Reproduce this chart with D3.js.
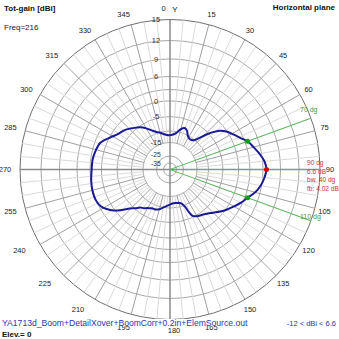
<!DOCTYPE html>
<html><head><meta charset="utf-8">
<script src="https://cdn.jsdelivr.net/npm/d3@7"></script>
<style>body{margin:0;background:#fff} svg{display:block;font-family:"Liberation Sans",Arial,sans-serif}</style>
</head><body>
<svg id="c" width="339" height="339"></svg>
<script>
// ---- data ----
const angles = [0,5,10,13,17,20,24,28,32,36,40,43,46,49,52,56,61,66,70,75,80,85,90,95,100,105,110,115,120,125,130,135,140,145,150,154,156,158,161,165,171,176,180,185,190,195,200,205,210,214,218,222,226,230,234,238,242,248,255,262,270,277,283,291,298,305,311,316,321,325,330,335,340,345,350,355];
const gains  = [-11.9,-11.5,-10.6,-9.5,-8.4,-8.1,-8.8,-10.2,-10.9,-10.9,-10.0,-8.4,-6.0,-3.7,-1.8,-0.2,1.0,2.3,3.6,4.5,5.5,6.3,6.6,6.3,5.8,4.9,3.6,2.6,1.4,0.3,-1.0,-2.4,-3.5,-4.2,-4.7,-5.5,-7.1,-9.5,-11.1,-11.7,-12.0,-11.9,-11.5,-10.9,-10.0,-9.1,-8.6,-8.5,-7.9,-7.2,-6.6,-5.3,-4.0,-1.8,0.3,1.6,2.6,3.1,3.1,2.9,2.58,2.5,2.2,1.6,-0.2,-1.9,-2.7,-3.7,-4.7,-5.5,-6.9,-8.4,-9.5,-10.2,-11.1,-11.7];
const ringValues = [15,12,9,6,3,0,-5,-10,-15,-25,-35];
const ringLabels = [15,12,9,6,0,-5,-15,-25,-35];
const angleLabels = [0,15,30,45,60,75,90,105,120,135,150,165,180,195,210,225,240,255,270,285,300,315,330,345];
const beamAngles = [70,110];
const beamGain = 3.6;
const maxAngle = 90, maxGain = 6.6;
const beamTexts = ["70 dg","110 dg"];
const maxTexts = ["90 dg","6.6 dB","bw. 40 dg","fb: 4.02 dB"];
const titleLeft = "Tot-gain [dBi]", freqText = "Freq=216", titleRight = "Horizontal plane";
const fileText = "YA1713d_Boom+DetailXover+BoomCorr+0.2in+ElemSource.out";
const rangeText = "-12 < dBi < 6.6", elevText = "Elev.= 0";
// scale knots (dB)
const knotDb = [-40,-35,-25,-15,-10,-5,0,3,6,9,12,15];

// ---- layout ----
const cx = 170, cy = 169.5, R = 150;
const knotFrac = [0,0.043,0.09,0.18,0.257,0.353,0.457,0.533,0.62,0.737,0.86,1];
const r = d3.scaleLinear().domain(knotDb).range(knotFrac.map(f=>f*R)).clamp(true);
const rad = a => a*Math.PI/180;
const px = (a, rr) => cx + rr*Math.sin(rad(a));
const py = (a, rr) => cy - rr*Math.cos(rad(a));

const svg = d3.select("#c");
const g = svg.append("g");

// rings
g.selectAll("circle.ring").data(ringValues).join("circle")
  .attr("cx",cx).attr("cy",cy).attr("r",d=>r(d))
  .attr("fill","none")
  .attr("stroke",d=>d===15?"#6e6e6e":"#a8a8a8")
  .attr("stroke-width",1);

// spokes
const spokes = d3.range(0,360,5).filter(a=>a%90!==0);
g.selectAll("line.sp").data(spokes).join("line")
  .attr("x1",a=>px(a,r(-15))).attr("y1",a=>py(a,r(-15)))
  .attr("x2",a=>px(a,R)).attr("y2",a=>py(a,R))
  .attr("stroke",a=>a%15===0?"#a0a0a0":"#dadada").attr("stroke-width",1);
// axes
[0,90].forEach(a=>{
  g.append("line").attr("x1",px(a,R)).attr("y1",py(a,R)).attr("x2",px(a+180,R)).attr("y2",py(a+180,R))
   .attr("stroke","#8a8a8a").attr("stroke-width",1.5);
});

// ring labels
g.selectAll("text.rl").data(ringLabels).join("text")
  .attr("x",cx-14).attr("y",d=>cy-r(d)+(d===-25?-1:d===-35?0.5:0)).attr("dy","0.35em")
  .attr("text-anchor","middle").attr("font-size",d=>d<=-25?6.8:7.5).attr("fill","#333").text(d=>d);

// angle labels
g.selectAll("text.al").data(angleLabels).join("text")
  .attr("x",a=>{
     let x = px(a,160);
     if (a===0) x -= 6.5;
     else if (a===180) x += 4;
     else if (a>180) x -= (a>195 && a<255) ? 12 : 5;
     return x;})
  .attr("y",a=>py(a,161)+((a===165||a===195)?2:0)).attr("dy","0.35em")
  .attr("text-anchor","middle").attr("font-size",7.5).attr("fill","#222").text(a=>a);
g.append("text").attr("x",175).attr("y",py(0,161)).attr("dy","0.4em").attr("text-anchor","middle")
  .attr("font-size",8).attr("fill","#111").text("Y");

// beam lines
g.selectAll("line.bw").data(beamAngles).join("line")
  .attr("x1",cx).attr("y1",cy).attr("x2",a=>px(a,R)).attr("y2",a=>py(a,R))
  .attr("stroke","#5cb85c").attr("stroke-width",1);
g.append("line").attr("x1",cx).attr("y1",cy).attr("x2",px(maxAngle,R)).attr("y2",py(maxAngle,R))
  .attr("stroke","#e07070").attr("stroke-width",1);

// pattern
const pts = angles.map((a,i)=>({a, g:gains[i]}));
const line = d3.lineRadial().angle(d=>rad(d.a)).radius(d=>r(d.g)).curve(d3.curveCatmullRomClosed.alpha(0.5));
g.append("path").attr("transform",`translate(${cx},${cy})`).attr("d",line(pts))
  .attr("fill","none").attr("stroke","#1a1a96").attr("stroke-width",2);

// markers
g.selectAll("circle.bd").data(beamAngles).join("circle")
  .attr("cx",a=>px(a,r(beamGain))).attr("cy",a=>py(a,r(beamGain))).attr("r",2.5).attr("fill","#129a12");
g.append("circle").attr("cx",px(maxAngle,r(maxGain))).attr("cy",py(maxAngle,r(maxGain))).attr("r",2.5).attr("fill","#e00000");

// beam texts
g.selectAll("text.bt").data(beamAngles).join("text")
  .attr("x",300).attr("y",(a,i)=>py(a,R)+(i===0?-6:-2))
  .attr("font-size",7).attr("fill","#3c9c3c").text((a,i)=>beamTexts[i]);

// max texts
maxTexts.forEach((t,i)=>{
  g.append("text").attr("x",307).attr("y",165+i*8.6).attr("font-size",6.6).attr("fill","#cc3333").text(t);
});

// titles
svg.append("text").attr("x",4).attr("y",11).attr("font-size",8).attr("font-weight","bold").attr("fill","#111").text(titleLeft);
svg.append("text").attr("x",4).attr("y",30).attr("font-size",8).attr("fill","#222").text(freqText);
svg.append("text").attr("x",335).attr("y",10).attr("text-anchor","end").attr("font-size",8).attr("font-weight","bold").attr("fill","#111").text(titleRight);

// footer (white box behind file name hides the labels underneath, as in the original)
const fbg = svg.append("rect").attr("fill","#fff");
const ft = svg.append("text").attr("x",2).attr("y",326).attr("font-size",8.6).attr("fill","#2b35b5").text(fileText);
const bb = ft.node().getBBox();
fbg.attr("x",bb.x).attr("y",bb.y+1).attr("width",bb.width).attr("height",bb.height-3);
svg.append("text").attr("x",336).attr("y",326).attr("text-anchor","end").attr("font-size",7.5).attr("fill","#2b35b5").text(rangeText);
svg.append("text").attr("x",2).attr("y",337).attr("font-size",8).attr("font-weight","bold").attr("fill","#111").text(elevText);
</script>
</body></html>
